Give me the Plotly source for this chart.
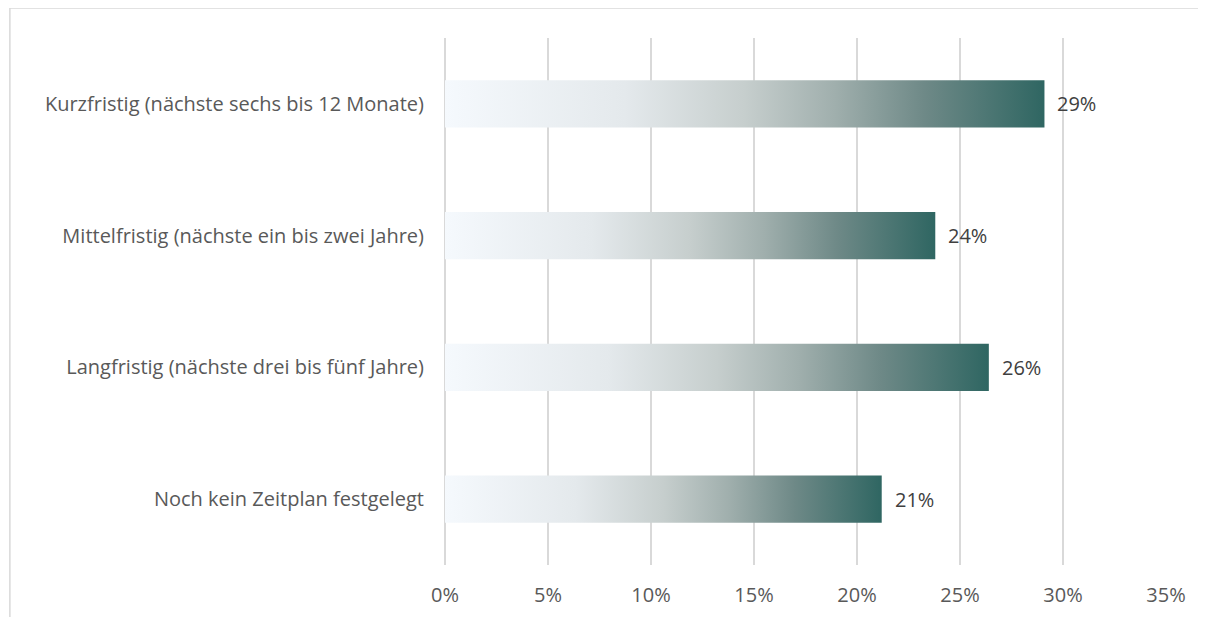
import plotly.graph_objects as go

categories = [
    "Kurzfristig (nächste sechs bis 12 Monate)",
    "Mittelfristig (nächste ein bis zwei Jahre)",
    "Langfristig (nächste drei bis fünf Jahre)",
    "Noch kein Zeitplan festgelegt",
]
values = [29.1, 23.8, 26.4, 21.2]
labels = ["29%", "24%", "26%", "21%"]
x_ticks = [0, 5, 10, 15, 20, 25, 30, 35]
x_ticktext = ["0%", "5%", "10%", "15%", "20%", "25%", "30%", "35%"]

FONT = "Open Sans"
FS = 20
bar_half = 0.18
gradient = [
    [0.0, "#f5f9fd"],
    [0.3, "#e4e9ec"],
    [0.5, "#c6cecd"],
    [0.65, "#a0afad"],
    [0.8, "#6e8987"],
    [1.0, "#2f6662"],
]

n = len(categories)
ypos = [n - 1 - i for i in range(n)]

fig = go.Figure()
for cat, v, y in zip(categories, values, ypos):
    fig.add_trace(go.Scatter(
        x=[0, v, v, 0, 0],
        y=[y - bar_half, y - bar_half, y + bar_half, y + bar_half, y - bar_half],
        mode="lines",
        line=dict(width=0),
        fill="toself",
        fillgradient=dict(type="horizontal", colorscale=gradient),
        name=cat,
        hoverinfo="skip",
        showlegend=False,
    ))

for lab, v, y in zip(labels, values, ypos):
    fig.add_annotation(
        x=v, y=y, text=lab, showarrow=False, xanchor="left", xshift=11,
        font=dict(family=FONT, size=FS, color="#404040"),
    )

fig.add_shape(
    type="rect", xref="paper", yref="paper",
    x0=-0.6035, x1=1.07, y0=-0.12, y1=1.0569,
    line=dict(color="#d9d9d9", width=1.5), layer="below",
)

fig.update_layout(
    width=1206, height=617,
    margin=dict(l=437, r=48, t=30, b=60),
    paper_bgcolor="white", plot_bgcolor="white",
    font=dict(family=FONT, size=FS, color="#595959"),
    xaxis=dict(
        range=[0, 35], tickvals=x_ticks, ticktext=x_ticktext,
        showgrid=True, gridcolor="#d9d9d9", gridwidth=2,
        zeroline=True, zerolinecolor="#d9d9d9", zerolinewidth=2,
        showline=False, fixedrange=True,
        tickfont=dict(family=FONT, size=FS, color="#595959"),
        ticklabelstandoff=16,
    ),
    yaxis=dict(
        range=[-0.5, n - 0.5], tickvals=ypos, ticktext=categories,
        showgrid=False, zeroline=False, showline=False, fixedrange=True,
        tickfont=dict(family=FONT, size=FS, color="#595959"),
        ticklabelstandoff=20,
    ),
)

fig.write_html("out.html")
